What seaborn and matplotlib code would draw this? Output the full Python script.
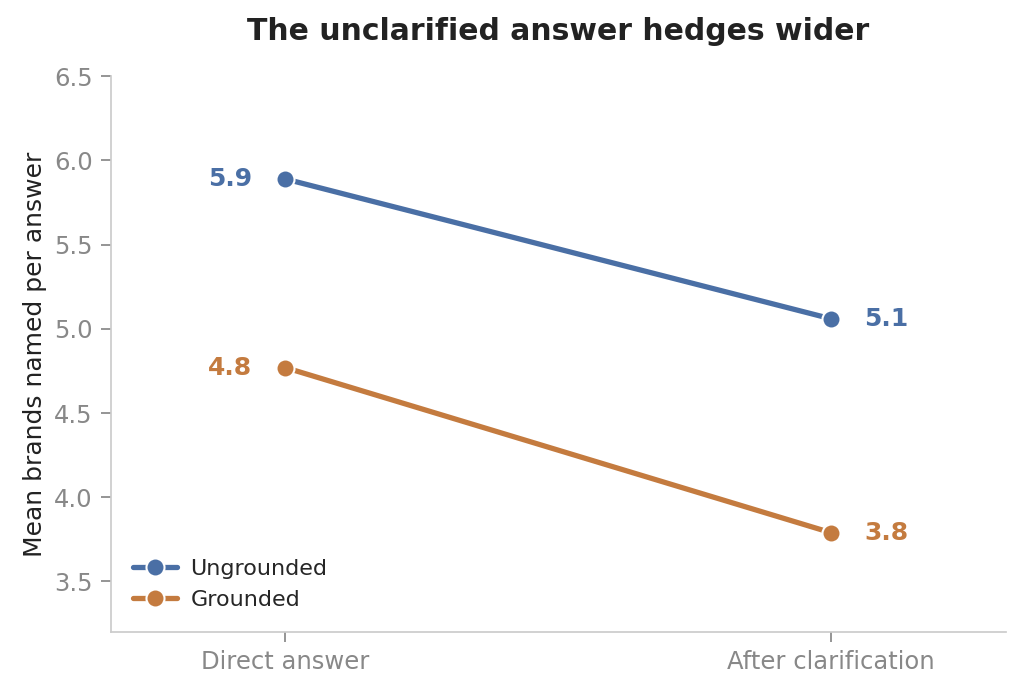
import matplotlib
matplotlib.use("Agg")
import matplotlib.pyplot as plt
import seaborn as sns
import pandas as pd

stages = ["Direct answer", "After clarification"]
series_names = ["Ungrounded", "Grounded"]
ungrounded = [5.89, 5.06]
grounded = [4.77, 3.79]
label_ungrounded = ["5.9", "5.1"]
label_grounded = ["4.8", "3.8"]
colors = ["#4A6FA5", "#C47B3F"]

sns.set_theme(style="ticks")
plt.rcParams['font.family'] = ['DejaVu Sans']

df = pd.DataFrame({
    "stage": stages * 2,
    "x": [0, 1] * 2,
    "value": ungrounded + grounded,
    "series": [series_names[0]] * 2 + [series_names[1]] * 2,
})

fig, ax = plt.subplots(figsize=(10.24, 6.93), dpi=100)
sns.lineplot(data=df, x="x", y="value", hue="series", palette=colors,
             marker="o", markersize=13, linewidth=3.8, markeredgecolor="white",
             markeredgewidth=1.5, ax=ax)

for vals, labs, c in [(ungrounded, label_ungrounded, colors[0]), (grounded, label_grounded, colors[1])]:
    ax.text(0 - 0.061, vals[0], labs[0], color=c, fontsize=18, fontweight="bold", ha="right", va="center")
    ax.text(1 + 0.061, vals[1], labs[1], color=c, fontsize=18, fontweight="bold", ha="left", va="center")

ax.set_xlim(-0.32, 1.32)
ax.set_ylim(3.2, 6.5)
ax.set_xticks([0, 1])
ax.set_xticklabels(stages)
ax.set_yticks([3.5, 4.0, 4.5, 5.0, 5.5, 6.0, 6.5])
ax.set_xlabel("")
ax.set_ylabel("Mean brands named per answer", fontsize=18, color="#222222", labelpad=5)
ax.set_title("The unclarified answer hedges wider", fontsize=21.5, fontweight="bold", color="#222222", pad=26)
ax.tick_params(axis="both", labelsize=17.5, colors="#888888", length=7, labelcolor="#888888", pad=6)
for s in ["top", "right"]:
    ax.spines[s].set_visible(False)
for s in ["left", "bottom"]:
    ax.spines[s].set_color("#cccccc")

leg = ax.legend(loc="lower left", frameon=False, fontsize=16, title=None,
                handlelength=2.0, handletextpad=0.6, borderaxespad=0.6, labelspacing=0.5)

fig.subplots_adjust(left=0.108, right=0.982, top=0.89, bottom=0.088)
fig.savefig("out.png", dpi=100)
